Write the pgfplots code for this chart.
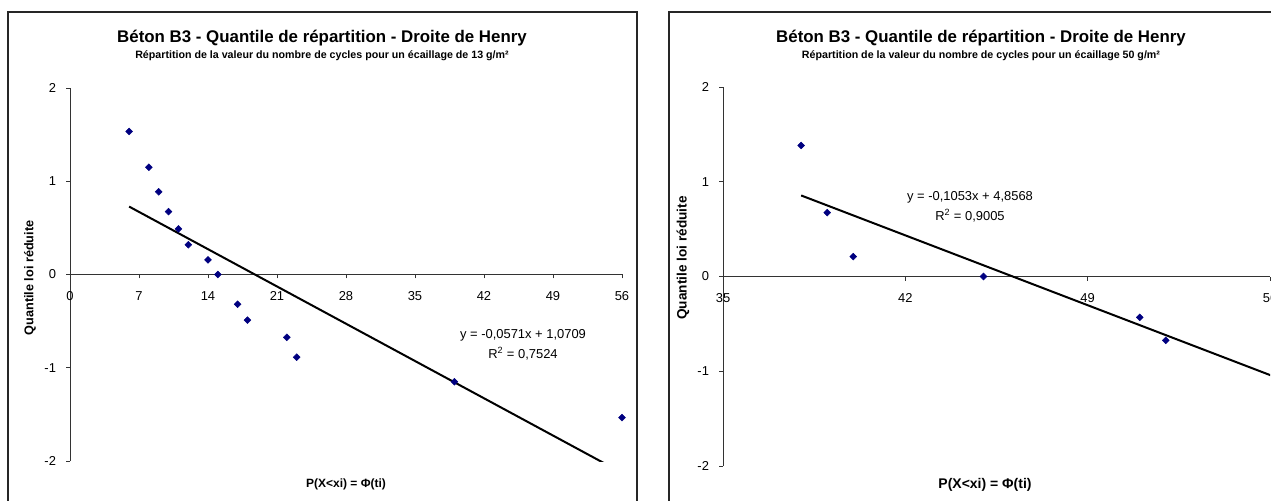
\documentclass[border=0pt]{standalone}
\usepackage{fontspec}
\setmainfont{Liberation Sans}
\usepackage{pgfplots}
\pgfplotsset{compat=1.18}
\definecolor{navy}{RGB}{0,0,128}
\pgfplotsset{henry/.style={
  scale only axis, anchor=south west,
  axis x line*=middle, axis y line*=left,
  hide obscured x ticks=false, hide obscured y ticks=false,
  ymin=-2, ymax=2, ytick={-2,-1,0,1,2},
  tick align=outside, major tick length=3pt,
  tick style={black!80, line width=0.6pt},
  axis line style={black!80, line width=0.75pt},
  tick label style={font=\fontsize{9.7}{11}\selectfont},
  /pgf/number format/assume math mode=true,
  xticklabel style={yshift=-6pt},
  yticklabel style={xshift=-4pt},
  clip=true,
}}
\begin{document}
\begin{tikzpicture}
\clip (0,0) rectangle (953.25pt,375pt);
\fill[white] (0,0) rectangle (953.25pt,375pt);
\draw[line width=1.1pt, black!85] (6pt,366pt) rectangle (477.75pt,-10pt);
\draw[line width=1.1pt, black!85] (501.75pt,366pt) rectangle (990pt,-10pt);

\begin{axis}[henry, at={(52.5pt,29.25pt)}, width=414pt, height=279.75pt,
  xmin=0, xmax=56, xtick={0,7,...,56}]
\addplot[black, line width=1.5pt] coordinates {(6,0.7283) (56,-2.1267)};
\addplot[only marks, mark=square*, mark size=1.8pt,
  mark options={rotate=45, fill=navy, draw=navy}] coordinates {
  (6,1.534) (8,1.150) (9,0.887) (10,0.674) (11,0.489) (12,0.319) (14,0.157) (15,0)
  (17,-0.319) (18,-0.489) (22,-0.674) (23,-0.887) (39,-1.150) (56,-1.534)};
\end{axis}

\begin{axis}[henry, at={(542.25pt,25.5pt)}, width=410.25pt, height=284.25pt,
  xmin=35, xmax=56, xtick={35,42,49,56}]
\addplot[black, line width=1.5pt] coordinates {(38,0.8554) (60,-1.4612)};
\addplot[only marks, mark=square*, mark size=1.8pt,
  mark options={rotate=45, fill=navy, draw=navy}] coordinates {
  (38,1.383) (39,0.674) (40,0.210) (45,0) (51,-0.431) (52,-0.674)};
\end{axis}

% titles
\node[font=\fontsize{12.65}{14}\selectfont\bfseries] at (241.5pt,346.5pt) {Béton B3 - Quantile de répartition - Droite de Henry};
\node[font=\fontsize{8}{10}\selectfont\bfseries] at (241.5pt,333pt) {Répartition de la valeur du nombre de cycles pour un écaillage de 13 g/m²};
\node[font=\fontsize{12.65}{14}\selectfont\bfseries] at (735.75pt,346.5pt) {Béton B3 - Quantile de répartition - Droite de Henry};
\node[font=\fontsize{8}{10}\selectfont\bfseries] at (735.75pt,333pt) {Répartition de la valeur du nombre de cycles pour un écaillage 50 g/m²};
% axis labels
\node[rotate=90, font=\fontsize{9.5}{11}\selectfont\bfseries] at (22.5pt,166.5pt) {Quantile loi réduite};
\node[rotate=90, font=\fontsize{10.2}{12}\selectfont\bfseries] at (512.25pt,181.5pt) {Quantile loi réduite};
\node[font=\fontsize{9}{11}\selectfont\bfseries] at (259.5pt,12pt) {P(X<xi) = Φ(ti)};
\node[font=\fontsize{10.5}{12}\selectfont\bfseries] at (738.75pt,11.25pt) {P(X<xi) = Φ(ti)};
% equations
\node[font=\fontsize{9.7}{11}\selectfont] at (392.25pt,123.75pt) {y = -0,0571x + 1,0709};
\node[font=\fontsize{9.7}{11}\selectfont] at (392.25pt,109.5pt) {R\textsuperscript{2} = 0,7524};
\node[font=\fontsize{9.7}{11}\selectfont] at (727.5pt,227.25pt) {y = -0,1053x + 4,8568};
\node[font=\fontsize{9.7}{11}\selectfont] at (727.5pt,213pt) {R\textsuperscript{2} = 0,9005};
\end{tikzpicture}
\end{document}
